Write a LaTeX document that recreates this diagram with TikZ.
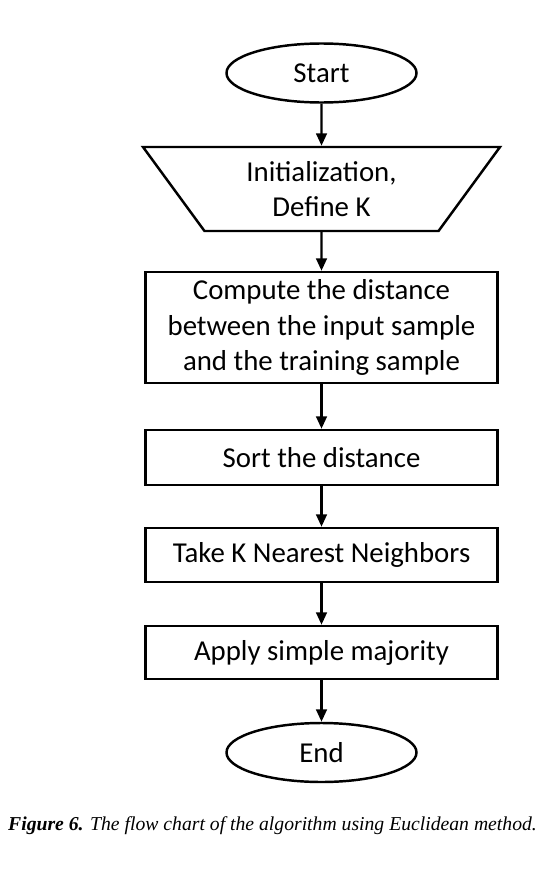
\documentclass[tikz,border=0pt]{standalone}
\usepackage{fontspec}
\setmainfont{Carlito}
\newfontfamily\capfont{Liberation Serif}
\usetikzlibrary{shapes.geometric,arrows.meta}

\begin{document}
\begin{tikzpicture}[line width=1.4pt, >={Triangle[length=7pt,width=6pt]},
  flowtext/.style={font=\fontsize{16.4}{20}\selectfont, align=center},
  terminal/.style={draw, ellipse, flowtext, minimum width=3.8cm, minimum height=1.18cm, inner sep=0pt},
  stepbox/.style={draw, rectangle, flowtext, minimum width=7.04cm, inner sep=0pt},
  inputbox/.style={draw, trapezium, flowtext, shape border rotate=180, trapezium stretches body,
    trapezium left angle=42, trapezium right angle=42, minimum width=7.14cm, minimum height=1.68cm, inner sep=0pt}]

\useasboundingbox (0,0) rectangle (11,-17.52);

% flow chart boxes, top to bottom
\node [terminal] (start) at (6.43,-1.46) {Start};
\node [inputbox] (init) at (6.43,-3.78) {Initialization,\\Define K};
\node [stepbox, minimum height=2.22cm] (dist) at (6.43,-6.55) {Compute the distance\\between the input sample\\and the training sample};
\node [stepbox, minimum height=1.1cm] (sort) at (6.43,-9.15) {Sort the distance};
\node [stepbox, minimum height=1.08cm] (knn) at (6.43,-11.1) {Take K Nearest Neighbors};
\node [stepbox, minimum height=1.06cm] (vote) at (6.43,-13.05) {Apply simple majority};
\node [terminal] (end) at (6.43,-15.05) {End};

% arrows
\draw[->] (start) -- (init);
\draw[->] (init) -- (dist);
\draw[->] (dist) -- (sort);
\draw[->] (sort) -- (knn);
\draw[->] (knn) -- (vote);
\draw[->] (vote) -- (end);

% caption
\node (caption) at (5.45,-16.52) {\capfont\fontsize{11.2}{13}\selectfont\textbf{\textit{Figure 6.}}\textit{ The flow chart of the algorithm using Euclidean method.}};
\end{tikzpicture}
\end{document}
